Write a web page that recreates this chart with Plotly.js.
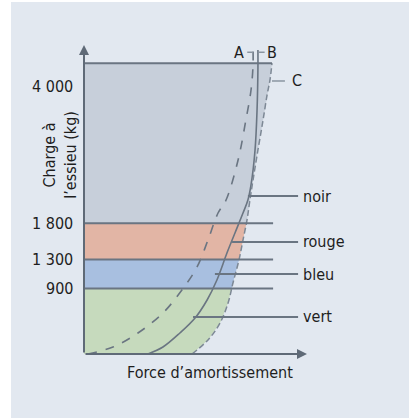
<!DOCTYPE html>
<html><head><meta charset="utf-8">
<script src="https://cdn.plot.ly/plotly-3.0.1.min.js"></script>
<style>html,body{margin:0;padding:0;background:#fff}#chart{width:409px;height:418px}</style>
</head><body><div id="chart"></div>
<script>
// Load levels (kg) and tick labels
const loads = [900, 1300, 1800, 4000];
const loadLabels = ['900', '1 300', '1 800', '4 000'];
// Bands (names + colours)
const bandNames = ['vert', 'bleu', 'rouge', 'noir'];
const bandLows  = [0, 900, 1300, 1800];
const bandHighs = [900, 1300, 1800, 4000];
const bandColors = ['#c6dabd', '#a8bfe0', '#e2b5a5', '#c7cfda'];
// Damping curves: force (arbitrary units 0-100) vs axle load (kg)
const curveA_force = [1.8, 13.0, 24.2, 35.4, 43.9, 50.7, 55.6, 60.1, 63.7, 69.1, 72.6, 74.9, 75.8, 75.8];
const curveA_load  = [0, 96, 289, 564, 880, 1197, 1568, 1939, 2118, 2669, 3219, 3631, 3975, 4182];
const curveB_force = [28.7, 35.4, 43.0, 49.8, 55.2, 59.6, 64.1, 67.7, 71.3, 73.5, 74.9, 76.7, 77.6, 78.0, 78.0];
const curveB_load  = [0, 96, 289, 495, 743, 1018, 1389, 1664, 1939, 2118, 2325, 2806, 3356, 3948, 4182];
const curveC_force = [48.4, 55.6, 61.0, 64.6, 66.8, 69.5, 71.3, 73.1, 74.4, 75.8, 78.0, 80.3, 82.1, 83.4, 84.3];
const curveC_load  = [0, 193, 426, 702, 977, 1293, 1568, 1843, 2118, 2393, 2806, 3219, 3563, 3769, 4000];

const FONT = 'DejaVu Sans Condensed, Liberation Sans Narrow, sans-serif';
const LINE = '#6a7582';

function interpC(load){
  for(let i=1;i<curveC_load.length;i++){
    if(load<=curveC_load[i]){
      const t=(load-curveC_load[i-1])/(curveC_load[i]-curveC_load[i-1]);
      return curveC_force[i-1]+t*(curveC_force[i]-curveC_force[i-1]);
    }
  }
  return curveC_force[curveC_force.length-1];
}

const traces = [];
bandNames.forEach((n,k)=>{
  const lo=bandLows[k], hi=bandHighs[k];
  const xs=[0, interpC(lo)], ys=[lo, lo];
  curveC_load.forEach((l,i)=>{ if(l>lo && l<hi){ xs.push(curveC_force[i]); ys.push(l);} });
  xs.push(interpC(hi), 0); ys.push(hi, hi);
  traces.push({x:xs,y:ys,mode:'lines',fill:'toself',fillcolor:bandColors[k],line:{width:0},hoverinfo:'skip',name:n});
});
traces.push({x:curveA_force,y:curveA_load,mode:'lines',line:{color:LINE,width:1.6,dash:'dash',shape:'spline'},name:'A'});
traces.push({x:curveB_force,y:curveB_load,mode:'lines',line:{color:LINE,width:1.6,shape:'spline'},name:'B'});
traces.push({x:curveC_force,y:curveC_load,mode:'lines',line:{color:'#7d8895',width:1.5,dash:'6px,3px',shape:'spline'},name:'C'});

// plot area spans px 84..307 horizontally, 45..354 vertically
const px = v => (v-84)/223;
const py = v => (354-v)/309;

const shapes = [
  {type:'rect',xref:'paper',yref:'paper',x0:px(-5),x1:px(11),y0:py(430),y1:py(-5),fillcolor:'#ffffff',line:{width:0},layer:'below'},
  {type:'rect',xref:'paper',yref:'paper',x0:px(-5),x1:px(420),y0:py(2),y1:py(-5),fillcolor:'#ffffff',line:{width:0},layer:'below'},
];
// band boundary lines
loads.forEach(l=>{
  shapes.push({type:'line',x0:0,x1:(l===4000?84.3:84.8),y0:l,y1:l,line:{color:LINE,width:2}});
});
// label leader lines
const leaderLoads=[509,1100,1541,2173];
const leaderStart=[48.9,58.7,66.4,73.5];
leaderLoads.forEach((l,i)=>shapes.push({type:'line',x0:leaderStart[i],x1:96,y0:l,y1:l,line:{color:LINE,width:2}}));
shapes.push({type:'line',x0:84.3,x1:90.1,y0:3755,y1:3755,line:{color:'#8a95a1',width:1.5}});
shapes.push({type:'line',x0:73.2,x1:75.6,y0:4150,y1:4150,line:{color:'#8a95a1',width:1.5}});
shapes.push({type:'line',x0:78.3,x1:81,y0:4150,y1:4150,line:{color:'#8a95a1',width:1.5}});

const ann = [];
const FS = 16;
const txt = (text,x,y,opts)=>Object.assign({text,x,y,xref:'x',yref:'y',showarrow:false,font:{family:FONT,size:FS,color:'#1e1e1e'}},opts||{});
bandNames.forEach((n,i)=>ann.push(txt(n,97.5,leaderLoads[i],{xanchor:'left',yanchor:'middle'})));
ann.push(txt('A',72.8,4150,{xanchor:'right',yanchor:'middle'}));
ann.push(txt('B',81.2,4150,{xanchor:'left',yanchor:'middle'}));
ann.push(txt('C',92.5,3755,{xanchor:'left',yanchor:'middle'}));
// y tick labels
loads.forEach((l,i)=>ann.push(txt(loadLabels[i],px(75),l,{xref:'paper',xanchor:'right',yanchor:'middle',yshift:(l===4000?-23:0)})));
// axis titles
ann.push(txt('Force d’amortissement',56.5,0,{xanchor:'center',yanchor:'middle',yshift:-18}));
ann.push(txt('Charge à<br>l’essieu (kg)',px(60),2740,{xref:'paper',xanchor:'center',yanchor:'middle',textangle:-90}));
// axis arrows
ann.push({x:100,y:0,ax:0,ay:0,xref:'x',yref:'y',axref:'x',ayref:'y',showarrow:true,arrowhead:2,arrowsize:1,arrowwidth:2,arrowcolor:'#5f6a77',text:''});
ann.push({x:0,y:4250,ax:0,ay:0,xref:'x',yref:'y',axref:'x',ayref:'y',showarrow:true,arrowhead:2,arrowsize:1,arrowwidth:2,arrowcolor:'#5f6a77',text:''});

const layout = {
  width:409,height:418,
  margin:{l:84,r:102,t:45,b:64},
  paper_bgcolor:'#e2e8f0',plot_bgcolor:'rgba(0,0,0,0)',
  showlegend:false,
  xaxis:{range:[0,100],showgrid:false,zeroline:false,showticklabels:false,ticks:'',showline:false,fixedrange:true},
  yaxis:{range:[0,4250],showgrid:false,zeroline:false,showticklabels:false,ticks:'',showline:false,fixedrange:true},
  shapes, annotations:ann
};
Plotly.newPlot('chart',traces,layout,{staticPlot:true,displayModeBar:false});
</script></body></html>
